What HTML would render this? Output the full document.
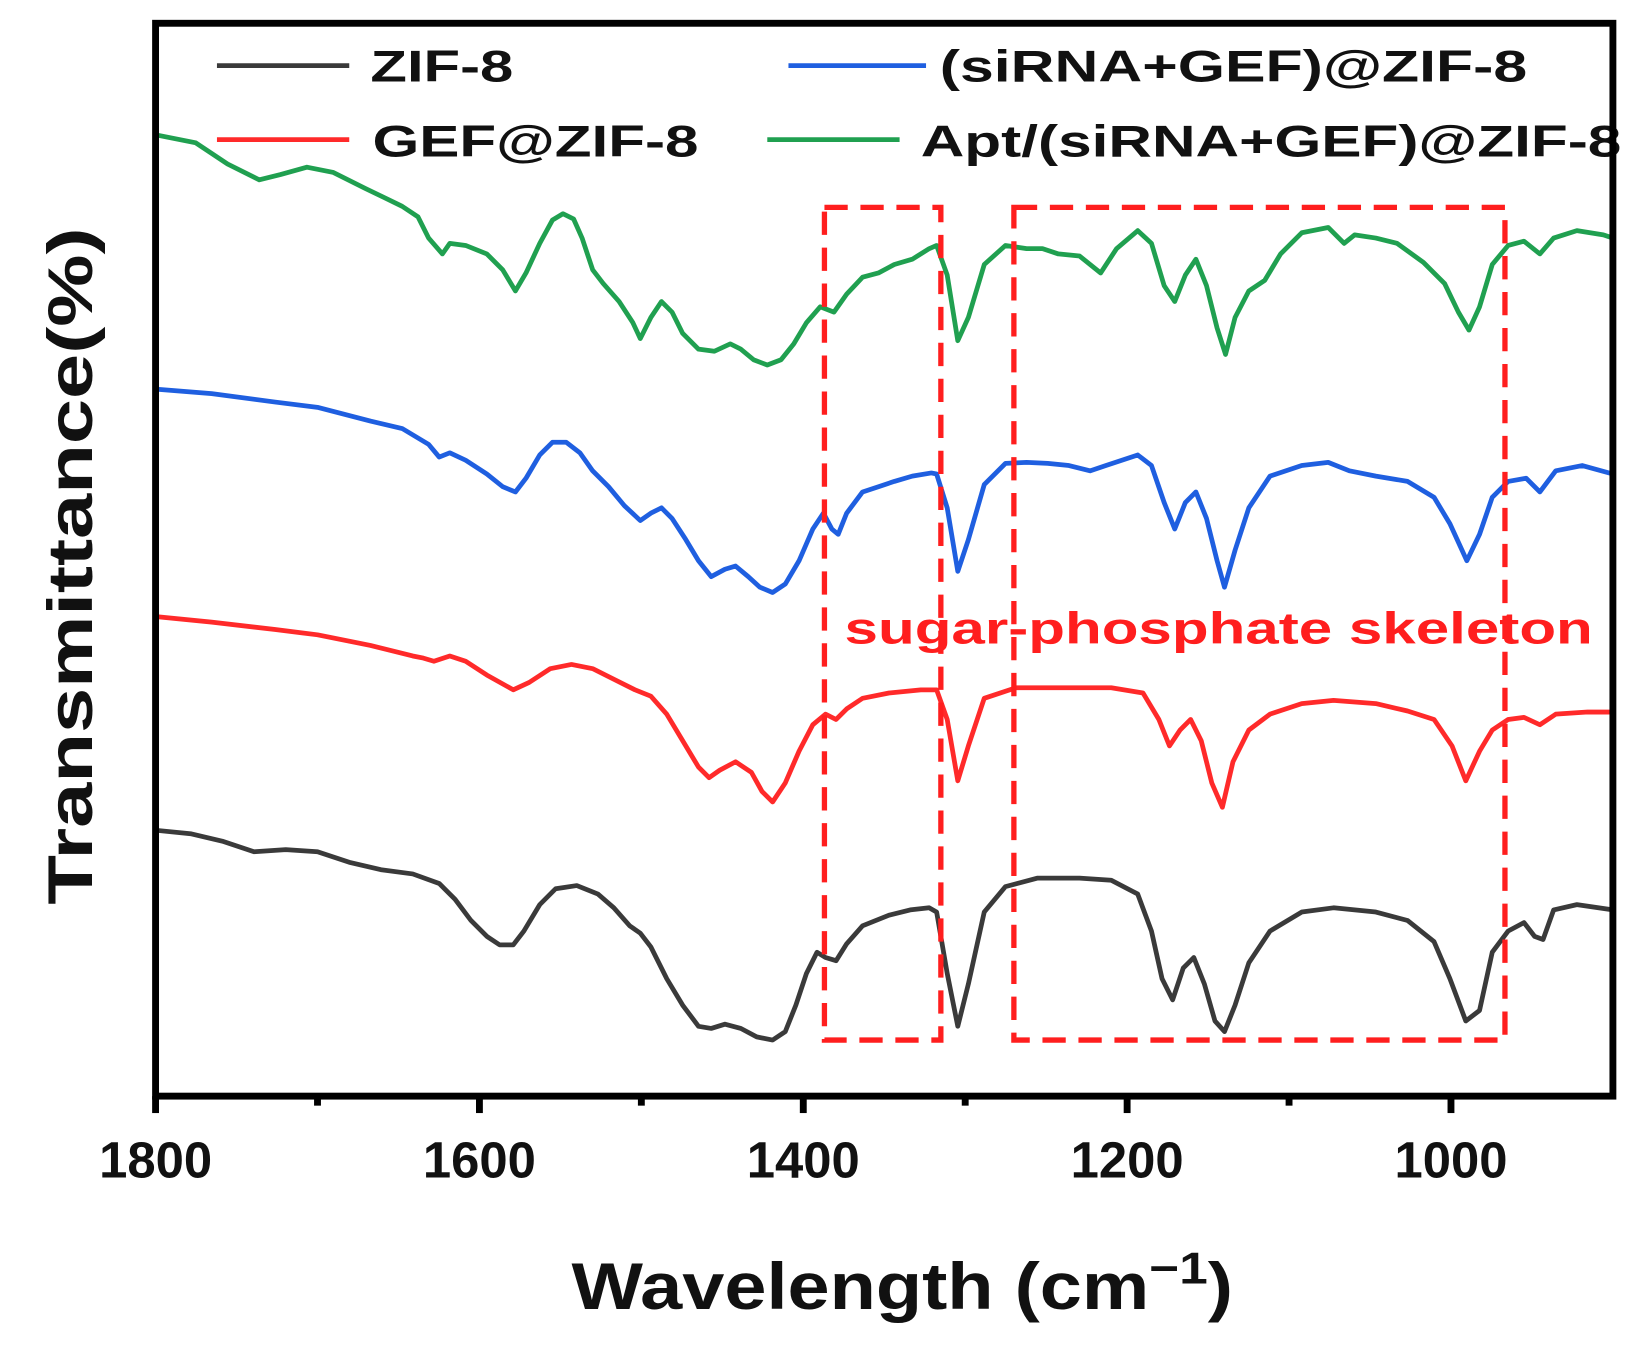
<!DOCTYPE html>
<html><head><meta charset="utf-8"><style>html,body{margin:0;padding:0;background:#fff}svg{display:block}</style></head>
<body>
<svg width="1651" height="1349" viewBox="0 0 1560 1275" preserveAspectRatio="none" xmlns="http://www.w3.org/2000/svg" font-family="Liberation Sans, Arial, sans-serif" font-weight="bold">
<g fill="none" stroke-width="4.5" stroke-linejoin="round" stroke-linecap="round">
<polyline stroke="#20a050" points="150,128 185,135 215,155 245,170 265,165 290,158 315,163 345,178 380,195 395,205 405,225 418,240 425,230 440,232 460,240 475,255 487,275 497,258 510,230 522,208 532,202 542,207 550,225 560,255 570,268 585,285 598,305 605,320 615,300 625,285 635,295 645,315 660,330 675,332 690,325 700,330 712,340 725,345 738,340 750,325 762,305 775,290 788,295 800,278 815,262 830,258 845,250 862,245 878,235 885,232 895,260 905,322 915,300 930,250 950,232 970,235 985,235 1000,240 1020,242 1040,258 1055,235 1075,218 1088,230 1100,270 1110,285 1120,260 1130,245 1140,270 1150,310 1158,335 1167,300 1180,275 1195,265 1210,240 1230,220 1255,215 1270,230 1280,222 1300,225 1320,230 1345,248 1365,268 1378,295 1388,312 1398,290 1410,250 1425,232 1440,228 1455,240 1468,225 1490,218 1515,222 1524,225"/>
<polyline stroke="#1f5fe0" points="150,368 200,372 260,380 300,385 350,398 380,405 405,420 415,432 425,428 440,435 460,448 475,460 487,465 497,452 510,430 522,418 535,418 548,428 560,445 575,460 590,478 605,492 615,485 625,480 635,490 648,510 660,530 672,545 685,538 695,535 707,545 718,555 730,560 742,552 755,530 768,500 778,485 786,500 792,505 800,485 815,465 830,460 845,455 862,450 880,447 885,448 895,480 905,540 915,510 930,458 950,438 970,437 990,438 1010,440 1030,445 1045,440 1060,435 1075,430 1088,440 1100,475 1110,500 1120,475 1130,465 1140,490 1150,530 1157,555 1167,520 1180,480 1200,450 1230,440 1255,437 1275,445 1300,450 1330,455 1355,470 1370,495 1386,530 1398,505 1410,470 1425,455 1442,452 1455,465 1470,445 1495,440 1524,448"/>
<polyline stroke="#ff2a2a" points="150,583 200,588 260,595 300,600 350,610 390,620 400,622 410,625 425,620 440,625 460,638 485,652 500,645 520,632 540,628 560,632 580,642 600,652 615,658 630,675 645,700 660,725 670,735 680,728 695,720 710,730 720,748 730,758 742,740 755,710 768,685 780,675 790,680 800,670 815,660 840,655 870,652 885,652 895,680 905,738 915,705 930,660 960,650 1000,650 1050,650 1080,655 1095,680 1105,705 1115,690 1125,680 1135,700 1145,740 1155,763 1165,720 1180,690 1200,675 1230,665 1260,662 1300,665 1330,672 1355,680 1372,705 1385,738 1398,710 1410,690 1425,680 1440,678 1455,685 1470,675 1500,673 1524,673"/>
<polyline stroke="#3a3a3a" points="150,785 180,788 210,795 240,805 270,803 300,805 330,815 360,822 390,826 415,835 430,850 445,870 460,885 472,893 485,893 495,880 510,855 525,840 545,837 565,845 580,858 595,875 605,882 615,895 630,925 645,950 660,970 672,972 685,968 700,972 715,980 730,983 742,975 752,950 762,920 772,900 780,905 790,908 800,892 815,875 840,865 860,860 878,858 885,862 895,920 905,970 915,930 930,862 950,838 980,830 1020,830 1050,832 1075,845 1088,880 1098,925 1108,945 1118,915 1128,905 1138,930 1148,965 1157,975 1167,950 1180,910 1200,880 1230,862 1260,858 1300,862 1330,870 1355,890 1370,925 1385,965 1398,955 1410,900 1425,880 1440,872 1450,885 1458,888 1468,860 1490,855 1524,860"/>
</g>
<g fill="none" stroke="#ff1e1e" stroke-width="5" stroke-dasharray="22,12">
<rect x="779" y="196" width="110" height="787"/>
<rect x="958" y="196" width="464" height="787"/>
</g>
<text x="798" y="608" font-size="42" fill="#ff1e1e" textLength="707" lengthAdjust="spacingAndGlyphs">sugar-phosphate skeleton</text>
<g stroke-width="4.5">
<line x1="205" y1="62" x2="330" y2="62" stroke="#3a3a3a"/>
<line x1="745" y1="62" x2="875" y2="62" stroke="#1f5fe0"/>
<line x1="205" y1="132" x2="330" y2="132" stroke="#ff2a2a"/>
<line x1="725" y1="132" x2="850" y2="132" stroke="#20a050"/>
</g>
<g font-size="42" fill="#111">
<text x="350" y="77" textLength="135" lengthAdjust="spacingAndGlyphs">ZIF-8</text>
<text x="888" y="77" textLength="555" lengthAdjust="spacingAndGlyphs">(siRNA+GEF)@ZIF-8</text>
<text x="352" y="148" textLength="308" lengthAdjust="spacingAndGlyphs">GEF@ZIF-8</text>
<text x="870" y="148" textLength="662" lengthAdjust="spacingAndGlyphs">Apt/(siRNA+GEF)@ZIF-8</text>
</g>
<g stroke="#000" stroke-width="6.5" fill="none">
<rect x="147" y="22" width="1377" height="1014"/>
<line x1="147" y1="1036" x2="147" y2="1052"/>
<line x1="453" y1="1036" x2="453" y2="1052"/>
<line x1="759" y1="1036" x2="759" y2="1052"/>
<line x1="1065" y1="1036" x2="1065" y2="1052"/>
<line x1="1371" y1="1036" x2="1371" y2="1052"/>
<line x1="300" y1="1036" x2="300" y2="1045"/>
<line x1="606" y1="1036" x2="606" y2="1045"/>
<line x1="912" y1="1036" x2="912" y2="1045"/>
<line x1="1218" y1="1036" x2="1218" y2="1045"/>
</g>
<g font-size="48" fill="#111" text-anchor="middle">
<text x="147" y="1113">1800</text>
<text x="453" y="1113">1600</text>
<text x="759" y="1113">1400</text>
<text x="1065" y="1113">1200</text>
<text x="1371" y="1113">1000</text>
</g>
<text x="540" y="1237" font-size="62" fill="#111" textLength="625" lengthAdjust="spacingAndGlyphs">Wavelength (cm<tspan font-size="42" dy="-24">−1</tspan><tspan dy="24">)</tspan></text>
<text transform="translate(87,535) rotate(-90)" font-size="60" fill="#111" text-anchor="middle" textLength="640" lengthAdjust="spacingAndGlyphs">Transmittance(%)</text>
</svg>
</body></html>
